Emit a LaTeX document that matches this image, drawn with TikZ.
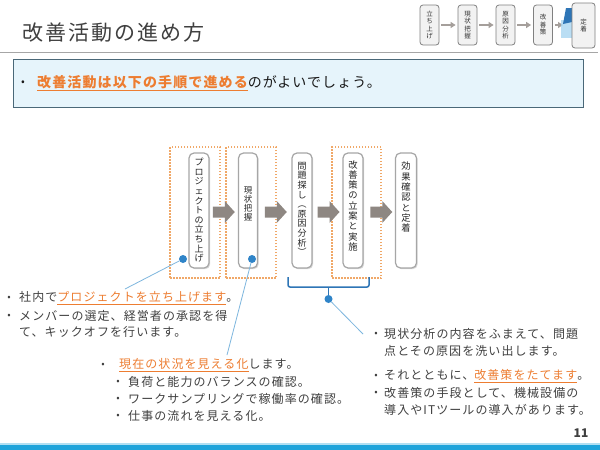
\documentclass[tikz,border=0pt]{standalone}
\usepackage{fontspec}
\setmainfont{Noto Sans CJK JP}
\usetikzlibrary{shadows,calc,arrows.meta}
\definecolor{txt}{HTML}{404040}
\definecolor{org}{HTML}{ED7D31}
\definecolor{bxfill}{HTML}{E6F4FB}
\definecolor{bxline}{HTML}{4A6878}
\definecolor{dotc}{HTML}{2F84C8}
\definecolor{lnc}{HTML}{7DB6DE}
\definecolor{brk}{HTML}{2E75B6}
\definecolor{arrg}{HTML}{8E8782}
\definecolor{dotbx}{HTML}{F0A868}
\definecolor{barc}{HTML}{1FA3DA}
\definecolor{navfill}{HTML}{F2F2F2}
\definecolor{navline}{HTML}{808080}
\definecolor{flagl}{HTML}{A9D6F2}
\newcommand{\orul}[1]{{\color{org}\underline{#1}}}
\newcommand{\bodyfont}{\fontsize{12}{14}\selectfont\addfontfeature{LetterSpace=9}}
% block arrow between two nodes: #1 from, #2 to, #3 x shift
\newcommand{\blockarrow}[3]{%
  \path (#1.east) -- (#2.west) coordinate[pos=0.5] (mid#1);
  \fill[arrg] ($(mid#1)+(#3,1.5)$) ++(-11,-5.5) -- ++(12,0) -- ++(0,-5.5)
     -- ++(10,11) -- ++(-10,11) -- ++(0,-5.5) -- ++(-12,0) -- cycle;}
\tikzset{
  body/.style={anchor=west, inner sep=0pt, text=txt, font=\bodyfont},
  bul/.style={inner sep=0pt, text=txt, font=\fontsize{10}{12}\selectfont},
  navbox/.style={draw=navline, fill=navfill, rounded corners=3pt, line width=0.8pt,
    minimum width=19pt, minimum height=40pt, inner sep=0pt, align=center,
    text=black!80, font=\fontsize{6.5}{7.5}\selectfont},
  navarr/.style={draw=arrg!80, line width=1.2pt, -{Triangle[length=5pt,width=6pt]},
    shorten <=2pt, shorten >=2pt},
  flowbox/.style={draw=black!35, fill=white, rounded corners=5pt, line width=1.2pt,
    minimum height=115pt, inner sep=0pt,
    drop shadow={shadow xshift=1.2pt, shadow yshift=-1.2pt, opacity=0.3}},
  flowtxt/.style={anchor=north, inner sep=0pt, align=center, text=black!85,
    font=\fontsize{9}{9.6}\selectfont},
  flowtxtb/.style={flowtxt, font=\fontsize{9.3}{10.3}\selectfont},
  dotbox/.style={draw=dotbx, line width=1.5pt, dash pattern=on 1.5pt off 1.5pt,
    minimum height=131pt, inner sep=0pt},
  dot/.style={circle, fill=dotc, minimum size=8pt, inner sep=0pt},
  bline/.style={draw=lnc, line width=0.8pt}
}
\begin{document}
\begin{tikzpicture}[x=1pt,y=-1pt]
\useasboundingbox (0,0) rectangle (600,450);
\fill[white] (0,0) rectangle (600,450);

% title
\node[anchor=west, inner sep=0pt, text=txt, font=\fontsize{21}{24}\selectfont\addfontfeature{LetterSpace=10}] (title) at (22,33) {改善活動の進め方};
\draw[black!35, line width=0.8pt] (0,52) -- (598,52);

% navigation
\node[navbox] (n1) at (429.5,25) {立\\ち\\上\\げ};
\node[navbox] (n2) at (467.5,25) {現\\状\\把\\握};
\node[navbox] (n3) at (505.5,25) {原\\因\\分\\析};
\node[navbox] (n4) at (543,25) {改\\善\\策};
\draw[navarr] (n1) -- (n2);
\draw[navarr] (n2) -- (n3);
\draw[navarr] (n3) -- (n4);
\draw[navarr] (n4) -- ++(22,0);
\fill[flagl, opacity=0.8] (561,20) rectangle (572,38);
\fill[brk] (566,8) -- (572,8) -- (572,22) -- (563,24) -- cycle;
\node[navbox, minimum width=23pt, minimum height=45pt] (n5) at (583.5,25.5) {定\\着};

% top box
\node[draw=bxline, fill=bxfill, line width=1pt, minimum width=570pt, minimum height=48pt, inner sep=0pt] (top) at (298,83) {};
\node[inner sep=0pt, text=black!90, font=\fontsize{11}{12}\selectfont] (tb) at (23,83) {•};
\node[anchor=west, inner sep=0pt, text=black!90, font=\fontsize{14}{16}\selectfont\addfontfeature{LetterSpace=8}] (tt) at (37,83) {\textbf{\orul{改善活動は以下の手順で進める}}のがよいでしょう。};

% dotted highlight boxes
\node[dotbox, minimum width=50pt] (ha) at (195,212.5) {};
\node[dotbox, minimum width=50pt] (hb) at (251,212.5) {};
\node[dotbox, minimum width=49pt] (hc) at (356.5,212.5) {};

% flow boxes
\node[flowbox, minimum width=20pt] (b1) at (199,210.5) {};
\node[flowbox, minimum width=19pt] (b2) at (248,210.5) {};
\node[flowbox, minimum width=20pt] (b3) at (302,210.5) {};
\node[flowbox, minimum width=20pt] (b4) at (353,210.5) {};
\node[flowbox, minimum width=21pt] (b5) at (406,210.5) {};
\node[flowtxt] (t1) at (199,158) {プ\\ロ\\ジ\\ェ\\ク\\ト\\の\\立\\ち\\上\\げ};
\node[flowtxt, font=\fontsize{8.5}{9}\selectfont] (t2) at (248,187) {現\\状\\把\\握};
\node[flowtxt] (t3) at (302,162) {問\\題\\探\\し\\︵\\原\\因\\分\\析\\︶};
\node[flowtxtb] (t4) at (353,160) {改\\善\\策\\の\\立\\案\\と\\実\\施};
\node[flowtxtb] (t5) at (406,162) {効\\果\\確\\認\\と\\定\\着};

% block arrows
\blockarrow{b1}{b2}{0}
\blockarrow{b2}{b3}{1}
\blockarrow{b3}{b4}{1}
\blockarrow{b4}{b5}{2}

% bracket
\coordinate (k1) at (288,277);
\coordinate (k2) at (369,277);
\coordinate (km) at (328.5,287);
\draw[brk, line width=1.5pt, rounded corners=2pt] (k1) |- (km) -| (k2);
\node[dot] (d3) at (328.5,299) {};
\draw[brk, line width=1.5pt] (km) -- (d3);

% dots and pointer lines
\node[dot] (d1) at (183,259) {};
\node[dot] (d2) at (252,259) {};
\coordinate (e1) at (125,289);
\coordinate (e2) at (227,355);
\coordinate (e3) at (363,334);
\draw[bline] (d1) -- (e1);
\draw[bline] (d2) -- (e2);
\draw[bline] (d3) -- (e3);

% text block 1
\node[bul] (u1) at (9,298) {•};
\node[body] (l1) at (19,298) {社内で\orul{プロジェクトを立ち上げます}。};
\node[bul] (u2) at (9,316) {•};
\node[body] (l2) at (19,316) {メンバーの選定、経営者の承認を得};
\node[body] (l3) at (19,332) {て、キックオフを行います。};

% text block 2
\node[bul] (v1) at (103,365) {•};
\node[body] (m1) at (119,365) {\orul{現在の状況を見える化}します。};
\node[bul] (v2) at (118,382) {•};
\node[body] (m2) at (128,382) {負荷と能力のバランスの確認。};
\node[bul] (v3) at (118,399) {•};
\node[body] (m3) at (128,399) {ワークサンプリングで稼働率の確認。};
\node[bul] (v4) at (118,416) {•};
\node[body] (m4) at (128,416) {仕事の流れを見える化。};

% text block 3
\node[bul] (w1) at (376,334) {•};
\node[body] (r1) at (384,334) {現状分析の内容をふまえて、問題};
\node[body] (r2) at (384,351) {点とその原因を洗い出します。};
\node[bul] (w2) at (376,376) {•};
\node[body] (r3) at (384,376) {それとともに、\orul{改善策をたてます}。};
\node[bul] (w3) at (376,393) {•};
\node[body] (r4) at (384,393) {改善策の手段として、機械設備の};
\node[body] (r5) at (384,410) {導入やITツールの導入があります。};

% footer
\node[inner sep=0pt, text=txt, font=\bfseries\fontsize{12}{14}\selectfont] (pg) at (581,433) {11};
\fill[barc!35] (0,442.5) rectangle (600,444.5);
\fill[barc] (0,444.5) rectangle (600,450);
\end{tikzpicture}
\end{document}
